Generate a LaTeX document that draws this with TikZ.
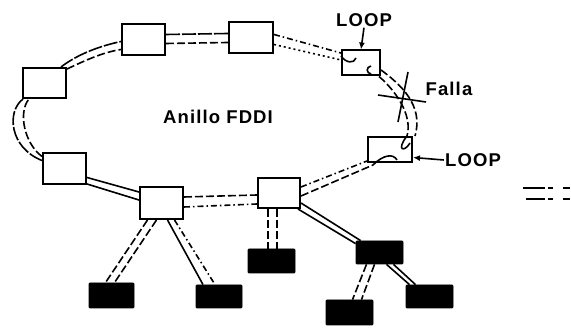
\documentclass[tikz,border=0pt]{standalone}
\usepackage{fontspec}
\setmainfont{Liberation Sans}
\usetikzlibrary{arrows.meta,calc}
\begin{document}
\begin{tikzpicture}[x=1pt,y=-1pt,
  wbox/.style={draw,line width=2pt,fill=white,inner sep=0pt,minimum width=43pt,minimum height=30pt},
  bbox/.style={fill=black,draw=black,line width=0.8pt,inner sep=0pt,minimum width=45pt,minimum height=23pt,rounded corners=1pt},
  lnk/.style={line width=1.6pt},
  dsh/.style={lnk,dash pattern=on 8pt off 3pt},
  ldsh/.style={lnk,dash pattern=on 14pt off 2pt},
  ddot/.style={lnk,dash pattern=on 6pt off 3pt on 1.5pt off 3pt},
  dott/.style={lnk,dash pattern=on 2pt off 3pt},
  lbl/.style={font=\bfseries\fontsize{18.5}{18.5}\selectfont\addfontfeature{LetterSpace=6},inner sep=1pt},
  arr/.style={lnk,-{Latex[length=7pt,width=6pt]}},
]
\useasboundingbox (0,0) rectangle (571,328);
% ring stations
\node[wbox,minimum width=43pt,minimum height=31pt] (r1) at (143.5,39.5) {};
\node[wbox,minimum width=44pt,minimum height=31pt] (r2) at (251,37.5) {};
\node[wbox] (r3) at (44.5,83) {};
\node[wbox,minimum height=31pt] (r4) at (64.5,168.5) {};
\node[wbox,minimum height=32pt] (r5) at (161.5,203) {};
\node[wbox,minimum width=42pt] (r6) at (279,193) {};
\node[wbox,minimum width=38pt,minimum height=25pt] (r7) at (361,63) {};
\node[wbox,minimum width=44pt,minimum height=25pt] (r8) at (390,149.5) {};
% attached stations
\node[bbox,minimum height=25pt] (k1) at (111.5,295.5) {};
\node[bbox,minimum width=46pt] (k2) at (219,296.5) {};
\node[bbox,minimum width=47pt,minimum height=24pt] (k3) at (271.5,261) {};
\node[bbox,minimum width=47pt] (k4) at (379.5,252.5) {};
\node[bbox,minimum width=47pt,minimum height=25pt] (k5) at (349.5,312.5) {};
\node[bbox,minimum width=47pt] (k6) at (429.5,296.5) {};
% labels
\node[lbl] (anillo) at (218,117) {Anillo FDDI};
\node[lbl] (L1) at (364,20) {LOOP};
\node[lbl] (L2) at (473,160) {LOOP};
\node[lbl] (falla) at (449,88.5) {Falla};
% ring links
\draw[ldsh] ($(r1.east)+(0,-5)$) -- ($(r2.west)+(0,-4)$);
\draw[dsh] ($(r1.east)+(0,4)$) -- ($(r2.west)+(0,5)$);
\draw[ddot] ($(r2.east)+(0,-3)$) -- ($(r7.west)+(0,-10)$);
\draw[dott] ($(r2.east)+(0,7)$) -- ($(r7.west)+(0,-3)$);
\draw[dsh] ($(r7.east)+(0,7)$) .. controls (400,84) and (424,105) .. ($(r8.north east)+(2,0)$);
\draw[dsh] ($(r7.south east)+(-2,0)$) .. controls (395,90) and (413,115) .. ($(r8.north east)+(-6,0)$);
\draw[ddot] ($(r6.east)+(0,-6)$) -- ($(r8.south west)+(0,-2)$);
\draw[dsh] ($(r6.east)+(0,3)$) -- ($(r8.south west)+(6,2)$);
\draw[dsh] ($(r5.east)+(0,-6)$) -- ($(r6.west)+(0,2)$);
\draw[ddot] ($(r5.east)+(0,4)$) -- ($(r6.west)+(0,11)$);
\draw[lnk] ($(r4.east)+(0,9)$) -- ($(r5.west)+(0,-11)$);
\draw[lnk] ($(r4.south east)+(0,-1)$) -- ($(r5.west)+(0,-3)$);
\draw[ldsh] ($(r4.west)+(0,-8)$) .. controls (10,148) and (6,112) .. ($(r3.south west)+(1,0)$);
\draw[dsh] ($(r4.west)+(0,-12)$) .. controls (24,143) and (18,112) .. ($(r3.south west)+(7,0)$);
\draw[ldsh] ($(r3.north east)+(-6,0)$) .. controls (78,54) and (100,46) .. ($(r1.west)+(0,2)$);
\draw[dsh] ($(r3.north east)+(0,2)$) .. controls (86,60) and (104,52) .. ($(r1.west)+(0,10)$);
% drops
\draw[dsh] ($(r5.south)+(-14,0)$) -- ($(k1.north)+(-6,0)$);
\draw[dsh] ($(r5.south)+(-5,0)$) -- ($(k1.north)+(3,0)$);
\draw[lnk] ($(r5.south)+(6,0)$) -- ($(k2.north)+(-16,0)$);
\draw[ddot] ($(r5.south)+(13,0)$) -- ($(k2.north)+(-4,0)$);
\draw[dsh] ($(r6.south)+(-11,0)$) -- ($(k3.north)+(-3.5,0)$);
\draw[dsh] ($(r6.south)+(-2,0)$) -- ($(k3.north)+(5.5,0)$);
\draw[lnk] ($(r6.south east)+(-3,0)$) -- ($(k4.north west)+(0,3)$);
\draw[lnk] ($(r6.south east)+(0,-6)$) -- ($(k4.north west)+(5,0)$);
\draw[dsh] ($(k4.south)+(-13,0)$) -- ($(k5.north)+(3,0)$);
\draw[dsh] ($(k4.south)+(-5,0)$) -- ($(k5.north)+(12,0)$);
\draw[lnk] ($(k4.south)+(7,0)$) -- ($(k6.north)+(-20,0)$);
\draw[lnk] ($(k4.south)+(14,0)$) -- ($(k6.north)+(-14,0)$);
% loops inside the wrapping stations
\draw[lnk] ($(r7.west)+(0,-7)$) .. controls (346,63) and (354,64) .. (356,58);
\draw[lnk] (371,66) .. controls (366,67) and (366,73) .. (371,74);
\draw[lnk] ($(r8.north east)+(-6,0)$) .. controls (396,150) and (404,153) .. (410,143);
\draw[lnk] ($(r8.south west)+(6,2)$) .. controls (383,155) and (393,153) .. (397,160);
% failure mark
\coordinate (x1) at (408,72);
\coordinate (x2) at (398,122);
\coordinate (x3) at (378,95);
\coordinate (x4) at (426,102);
\draw[lnk] (x1) -- (x2);
\draw[lnk] (x3) -- (x4);
% arrows
\draw[arr] (L1.south) -- (r7.north);
\draw[arr] (L2.west) -- ($(r8.east)+(0,8)$);
% fragment at right edge
\coordinate (f1) at (523,188);
\coordinate (f2) at (571,188);
\coordinate (f3) at (526,199);
\coordinate (f4) at (571,199);
\draw[line width=1.5pt,dash pattern=on 22pt off 3pt on 5pt off 10pt on 7pt off 20pt] (f1) -- (f2);
\draw[line width=1.5pt,dash pattern=on 19pt off 3pt on 5pt off 10pt on 7pt off 20pt] (f3) -- (f4);
\end{tikzpicture}
\end{document}
